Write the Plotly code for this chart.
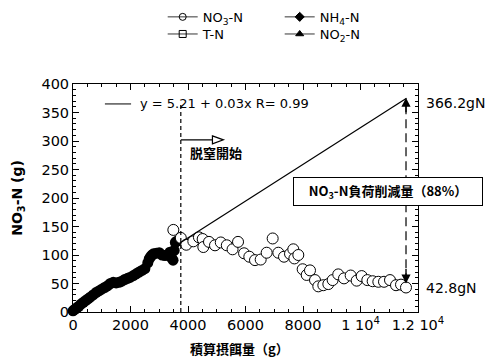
import plotly.graph_objects as go

# ---------------- data ----------------
dense_x = [0, 50, 100, 150, 200, 280, 360, 440, 520, 600, 700, 800, 900, 1000, 1100,
           1200, 1300, 1400, 1500, 1600, 1700, 1800, 1900, 2000, 2100, 2200, 2300, 2400,
           2500, 2600, 2650, 2700, 2750, 2800, 2900, 3000, 3100, 3200, 3300, 3370, 3430,
           3480, 3520, 3560, 3600]
dense_y = [2, 4, 6, 8, 10, 14, 17, 20, 23, 26, 30, 34, 37, 40, 43,
           46, 50, 52, 51, 52, 54, 57, 59, 61, 64, 67, 70, 73,
           76, 86, 93, 97, 100, 102, 103, 104, 100, 99, 100, 105, 95,
           91, 108, 122, 124]

open_x = [3490, 3750, 3940, 4185, 4380, 4510, 4533, 4730, 4939, 5140, 5350, 5550, 5740,
          5950, 6133, 6330, 6528, 6736, 6945, 7142, 7339, 7548, 7663, 7700, 7837, 7988,
          8128, 8243, 8417, 8533, 8707, 8881, 9031, 9226, 9426, 9658, 9867, 10041, 10237,
          10423, 10620, 10817, 11026, 11235, 11409, 11583]
open_y = [144, 130, 118, 124, 131, 128, 114, 123, 117, 122, 117, 110, 123,
          103, 97, 91, 92, 104, 129, 104, 97, 102, 110, 94, 100, 75,
          65, 73, 56, 45, 47, 49, 56, 66, 59, 64, 55, 63, 56,
          54, 53, 53, 56, 47, 48, 43]

fit_x = [3720, 11600]
fit_y = [121, 375]

denit_start_x = 3750
end_x = 11583
start_load = 366.2
end_load = 42.8

x_tickvals = [0, 2000, 4000, 6000, 8000, 10000, 12000]
x_ticktext = ["0", "2000", "4000", "6000", "8000", "1 10<sup>4</sup>", "1.2 10<sup>4</sup>"]

legend_names = ["NO<sub>3</sub>-N", "NH<sub>4</sub>-N", "T-N", "NO<sub>2</sub>-N"]
legend_symbols = ["circle-open", "diamond", "square-open", "triangle-up"]

FONT = "DejaVu Sans"
JP = "Noto Sans CJK JP"

fig = go.Figure()

# data
fig.add_trace(go.Scatter(x=dense_x, y=dense_y, mode="markers", showlegend=False,
                         cliponaxis=False,
                         marker=dict(symbol="circle", size=11, color="black")))
fig.add_trace(go.Scatter(x=open_x, y=open_y, mode="markers", showlegend=False,
                         cliponaxis=False,
                         marker=dict(symbol="circle", size=11, color="white",
                                     line=dict(color="black", width=1))))
fig.add_trace(go.Scatter(x=fit_x, y=fit_y, mode="lines", showlegend=False,
                         line=dict(color="black", width=1.2)))

# legend-only entries
legend_ids = ["legend", "legend", "legend2", "legend2"]
for name, sym, lg in zip(legend_names, legend_symbols, legend_ids):
    fig.add_trace(go.Scatter(x=[None], y=[None], mode="lines+markers", name=name,
                             legend=lg,
                             line=dict(color="black", width=0.8),
                             marker=dict(symbol=sym, size=7, color="black",
                                         line=dict(color="black", width=1))))

shapes = []
# vertical dashed line: denitrification start
shapes.append(dict(type="line", xref="x", yref="y", x0=denit_start_x, x1=denit_start_x,
                   y0=0, y1=367, line=dict(color="black", width=1.2, dash="4px,3px")))
# horizontal arrow shaft
shapes.append(dict(type="line", xref="x", yref="y", x0=denit_start_x, x1=4850,
                   y0=302, y1=302, line=dict(color="black", width=1.2)))
# open arrow head
shapes.append(dict(type="path", xref="x", yref="y",
                   path="M 4850 309 L 5230 302 L 4850 295 Z",
                   fillcolor="white", line=dict(color="black", width=1.2)))
# right dashed line
shapes.append(dict(type="line", xref="x", yref="y", x0=end_x, x1=end_x,
                   y0=52, y1=370, line=dict(color="black", width=1.2, dash="9px,5px")))
# equation legend line segment
shapes.append(dict(type="line", xref="x", yref="y", x0=1110, x1=2020, y0=365, y1=365,
                   line=dict(color="black", width=1)))

ann = []
ann.append(dict(x=2250, y=365, xref="x", yref="y", text="y = 5.21 + 0.03x R= 0.99",
                showarrow=False, xanchor="left", yanchor="middle",
                font=dict(family=FONT, size=13, color="black")))
ann.append(dict(x=3990, y=279, xref="x", yref="y", text="脱窒開始",
                showarrow=False, xanchor="left", yanchor="middle",
                font=dict(family=JP, size=13, color="black", weight="bold")))
# arrow heads on right dashed line
ann.append(dict(x=end_x, y=376, xref="x", yref="y", ax=0, ay=16, text="",
                showarrow=True, arrowhead=2, arrowsize=1.3, arrowwidth=1.4,
                arrowcolor="black"))
ann.append(dict(x=end_x, y=50, xref="x", yref="y", ax=0, ay=-16, text="",
                showarrow=True, arrowhead=2, arrowsize=1.3, arrowwidth=1.4,
                arrowcolor="black"))
ann.append(dict(x=1.017, y=start_load, xref="paper", yref="y", text=f"{start_load}gN",
                showarrow=False, xanchor="left", yanchor="middle",
                font=dict(family=FONT, size=14, color="black")))
ann.append(dict(x=1.017, y=end_load, xref="paper", yref="y", text=f"{end_load}gN",
                showarrow=False, xanchor="left", yanchor="middle",
                font=dict(family=FONT, size=14, color="black")))
ann.append(dict(x=0.913, y=0.528, xref="paper", yref="paper",
                text="NO<sub>3</sub>-N負荷削減量（88%）",
                showarrow=False, xanchor="center", yanchor="middle",
                bgcolor="white", bordercolor="black", borderwidth=1, borderpad=3,
                width=182,
                font=dict(family=JP, size=13, color="black", weight="bold")))
# axis titles
ann.append(dict(x=-0.16, y=0.5, xref="paper", yref="paper",
                text="NO<sub>3</sub>-N (g)", textangle=-90, showarrow=False,
                xanchor="center", yanchor="middle",
                font=dict(family=FONT, size=14, color="black", weight="bold")))
ann.append(dict(x=0.484, y=-0.158, xref="paper", yref="paper",
                text="積算摂餌量（g）", showarrow=False,
                xanchor="center", yanchor="middle",
                font=dict(family=JP, size=13, color="black", weight="bold")))

fig.update_layout(
    width=489, height=359,
    margin=dict(l=73, r=71, t=84, b=47, autoexpand=False),
    paper_bgcolor="white", plot_bgcolor="white",
    font=dict(family=FONT, size=14, color="black"),
    shapes=shapes, annotations=ann,
    legend=dict(orientation="h", x=0.26, y=1.36, xanchor="left", yanchor="top",
                entrywidth=72, entrywidthmode="pixels", itemwidth=30,
                font=dict(family=FONT, size=13, color="black"),
                bgcolor="rgba(0,0,0,0)", tracegroupgap=0),
    legend2=dict(orientation="h", x=0.26, y=1.285, xanchor="left", yanchor="top",
                 entrywidth=72, entrywidthmode="pixels", itemwidth=30,
                 font=dict(family=FONT, size=13, color="black"),
                 bgcolor="rgba(0,0,0,0)", tracegroupgap=0),
)

fig.update_xaxes(range=[0, 12000], tickvals=x_tickvals, ticktext=x_ticktext,
                 showgrid=False, zeroline=False, showline=True, linecolor="black",
                 linewidth=1, mirror="ticks", ticks="inside", ticklen=6, tickcolor="black",
                 automargin=False,
                 tickfont=dict(family=FONT, size=14.5, color="black"),
                 minor=dict(dtick=500, ticks="inside", ticklen=3, tickcolor="black",
                            showgrid=False))
fig.update_yaxes(range=[0, 400], dtick=50, tick0=0,
                 showgrid=False, zeroline=False, showline=True, linecolor="black",
                 linewidth=1, mirror="ticks", ticks="inside", ticklen=6, tickcolor="black",
                 automargin=False,
                 tickfont=dict(family=FONT, size=14.5, color="black"),
                 minor=dict(dtick=10, ticks="inside", ticklen=3, tickcolor="black",
                            showgrid=False))

fig.write_html("out.html", config={"displayModeBar": False},
               post_script="document.body.style.margin='0px';document.body.style.overflow='hidden';")
